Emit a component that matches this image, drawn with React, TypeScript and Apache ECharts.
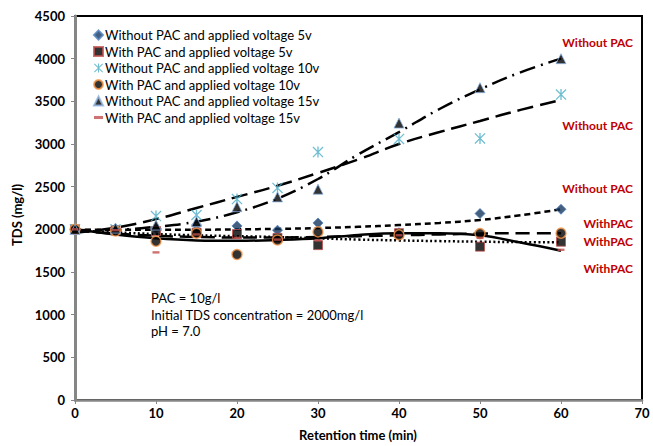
import React, { useEffect, useRef } from "react";
import * as echarts from "echarts";

// Retention times (min) of measurements
const times = [0, 5, 10, 15, 20, 25, 30, 40, 50, 60];
const noPac5v = [2000, 2010, 2010, 2050, 2040, 1990, 2075, 1960, 2185, 2235];
const pac5v = [2000, 1990, 1980, 1960, 1945, 1900, 1815, 1955, 1797, 1855];
const noPac10v = [2000, 2000, 2155, 2168, 2355, 2485, 2905, 3060, 3065, 3580];
const pac10v = [2000, 1980, 1860, 1955, 1705, 1875, 1970, 1935, 1950, 1955];
const noPac15v = [2000, 2015, 2050, 2090, 2265, 2380, 2470, 3245, 3660, 4000];
const pac15v = [2000, 1990, 1730, 1940, 1900, 1880, 1870, 1930, 1900, 1760];

// Trend lines
const trendTimes = [0, 5, 10, 15, 20, 25, 30, 35, 40, 45, 50, 55, 60];
const trendNoPac5v = [1995, 1995, 1995, 1995, 2000, 2005, 2015, 2030, 2050, 2075, 2110, 2165, 2235];
const trendPac5v = [1990, 1965, 1945, 1930, 1920, 1910, 1895, 1880, 1870, 1862, 1855, 1850, 1848];
const trendNoPac10v = [1960, 2020, 2120, 2250, 2380, 2510, 2660, 2820, 3000, 3140, 3270, 3400, 3515];
const trendPac10v = [1985, 1950, 1925, 1910, 1905, 1905, 1910, 1920, 1930, 1940, 1950, 1955, 1955];
const trendNoPac15v = [1990, 1995, 2030, 2090, 2200, 2360, 2590, 2880, 3140, 3410, 3640, 3840, 4000];
const trendPac15v = [2000, 1940, 1895, 1870, 1865, 1875, 1895, 1935, 1955, 1955, 1930, 1845, 1750];

const seriesNames = [
  "Without PAC and applied voltage 5v",
  "With PAC and applied voltage 5v",
  "Without PAC and applied voltage 10v",
  "With PAC and applied voltage 10v",
  "Without PAC and applied voltage 15v",
  "With PAC and applied voltage 15v",
];

const annotations = [
  { text: "Without PAC", y: 42 },
  { text: "Without PAC", y: 125 },
  { text: "Without PAC", y: 188 },
  { text: "WithPAC", y: 223 },
  { text: "WithPAC", y: 241 },
  { text: "WithPAC", y: 268 },
];

const noteLines = ["PAC = 10g/l", "Initial TDS concentration = 2000mg/l", "pH = 7.0"];

const FONT = "Lato, 'Open Sans', sans-serif";
const ASTERISK =
  "path://M4.4 0 L5.6 0 L5.6 10 L4.4 10 Z M0.8 0 L10 9.2 L9.2 10 L0 0.8 Z M9.2 0 L10 0.8 L0.8 10 L0 9.2 Z";
const DASH = "path://M0 0 L7 0 L7 2.4 L0 2.4 Z";

const pairs = (xs: number[], ys: number[]) => xs.map((x, i) => [x, ys[i]]);

export default function App() {
  const ref = useRef<HTMLDivElement>(null);
  useEffect(() => {
    if (!ref.current) return;
    const chart = echarts.init(ref.current, null, { renderer: "svg" });

    const markerDefs = [
      { data: noPac5v, symbol: "diamond", size: 10, itemStyle: { color: "#17375e", borderColor: "#4f81bd", borderWidth: 1 } },
      { data: pac5v, symbol: "rect", size: 9, itemStyle: { color: "#000000", borderColor: "#c0504d", borderWidth: 1 } },
      { data: noPac10v, symbol: ASTERISK, size: 11, itemStyle: { color: "#4bacc6" } },
      { data: pac10v, symbol: "circle", size: 10, itemStyle: { color: "#000000", borderColor: "#f79646", borderWidth: 1.5 } },
      { data: noPac15v, symbol: "triangle", size: 10, itemStyle: { color: "#000000", borderColor: "#8eb4e3", borderWidth: 1 } },
      { data: pac15v, symbol: DASH, size: [7, 2.4], itemStyle: { color: "#c0504d" } },
    ];

    const trendDefs = [
      { data: trendNoPac5v, type: [6, 4], width: 2.5 },
      { data: trendPac5v, type: [2, 2.5], width: 2.5 },
      { data: trendNoPac10v, type: [16, 7], width: 2.5 },
      { data: trendPac10v, type: [14, 7], width: 2.5 },
      { data: trendNoPac15v, type: [16, 6, 2, 6], width: 2.5 },
      { data: trendPac15v, type: "solid", width: 2.5 },
    ];

    const series: any[] = [];
    trendDefs.forEach((t, i) => {
      series.push({
        type: "line",
        name: "trend" + i,
        data: pairs(trendTimes, t.data),
        smooth: 0.4,
        showSymbol: false,
        symbol: "none",
        silent: true,
        z: 2,
        lineStyle: { color: "#000", width: t.width, type: t.type as any },
      });
    });
    markerDefs.forEach((m, i) => {
      series.push({
        type: "scatter",
        name: seriesNames[i],
        data: pairs(times, m.data),
        symbol: m.symbol,
        symbolSize: m.size,
        itemStyle: m.itemStyle,
        z: 3,
      });
    });

    const graphic: any[] = [];
    annotations.forEach((a) => {
      graphic.push({
        type: "text",
        x: 633,
        y: a.y,
        style: {
          text: a.text,
          fill: "#c00000",
          fontSize: 12,
          fontWeight: "bold",
          fontFamily: FONT,
          textAlign: "right",
          textVerticalAlign: "middle",
        },
      });
    });
    noteLines.forEach((t, i) => {
      graphic.push({
        type: "text",
        x: 151,
        y: 298 + i * 16.5,
        style: {
          text: t,
          fill: "#000",
          fontSize: 13,
          fontFamily: FONT,
          textAlign: "left",
          textVerticalAlign: "middle",
        },
      });
    });
    graphic.push({
      type: "text",
      x: 358,
      y: 435,
      style: {
        text: "Retention time (min)",
        fill: "#000",
        fontSize: 13,
        fontWeight: "bold",
        fontFamily: FONT,
        textAlign: "center",
        textVerticalAlign: "middle",
      },
    });
    graphic.push({
      type: "text",
      x: 17,
      y: 215,
      rotation: Math.PI / 2,
      style: {
        text: "TDS (mg/l)",
        fill: "#000",
        fontSize: 13,
        fontWeight: "bold",
        fontFamily: FONT,
        textAlign: "center",
        textVerticalAlign: "middle",
      },
    });

    chart.setOption({
      animation: false,
      backgroundColor: "#fff",
      grid: {
        left: 75,
        right: 11,
        top: 16,
        bottom: 46,
        show: true,
        borderColor: "#000",
        borderWidth: 2,
        backgroundColor: "transparent",
      },
      legend: {
        data: seriesNames,
        orient: "vertical",
        left: 93,
        top: 28,
        padding: 0,
        itemWidth: 9,
        itemHeight: 9,
        itemGap: 2.5,
        textStyle: { fontSize: 13, fontFamily: FONT, color: "#000", lineHeight: 14, padding: [0, 0, 0, -3] },
      },
      xAxis: {
        type: "value",
        min: 0,
        max: 70,
        interval: 10,
        splitLine: { show: false },
        axisLine: { show: true, onZero: false, lineStyle: { color: "#868686", width: 2.5 } },
        axisTick: { show: true, length: 4, lineStyle: { color: "#868686" } },
        axisLabel: { fontSize: 13, fontWeight: "bold", fontFamily: FONT, color: "#000", margin: 6 },
      },
      yAxis: {
        type: "value",
        min: 0,
        max: 4500,
        interval: 500,
        splitLine: { show: false },
        axisLine: { show: true, onZero: false, lineStyle: { color: "#868686", width: 3 } },
        axisTick: { show: true, length: 4, lineStyle: { color: "#868686" } },
        axisLabel: {
          fontSize: 13,
          fontWeight: "bold",
          fontFamily: FONT,
          color: "#000",
          margin: 10,
          formatter: (v: number) => String(v),
        },
      },
      graphic,
      series,
    });
    return () => chart.dispose();
  }, []);
  return <div ref={ref} style={{ width: 653, height: 446, position: "absolute", left: 0, top: 0 }} />;
}
